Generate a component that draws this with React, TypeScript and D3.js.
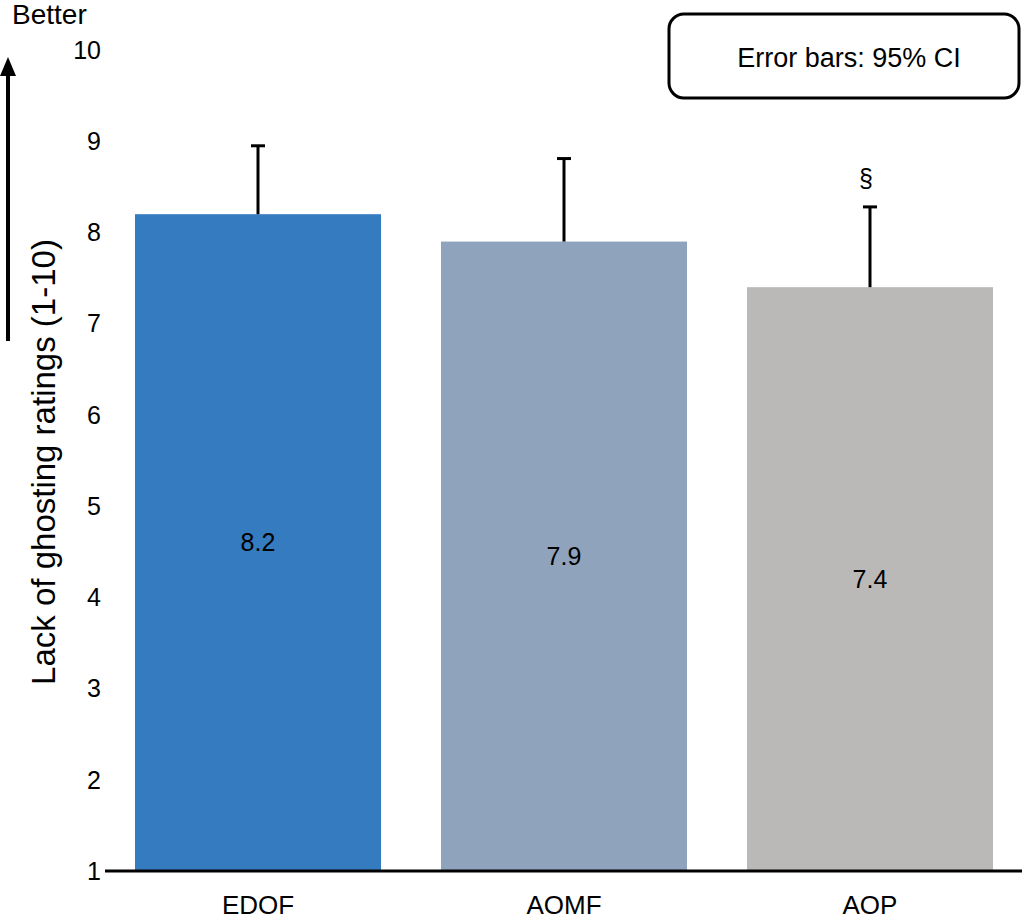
import React from "react";
import * as d3 from "d3";

const categories = ["EDOF", "AOMF", "AOP"];
const means = [8.2, 7.9, 7.4];
const upperCI = [8.95, 8.81, 8.28];
const colors = ["#347bc0", "#8fa3bd", "#bbb8b8"];
const markers = ["", "", "§"];
const yTicks = [1, 2, 3, 4, 5, 6, 7, 8, 9, 10];

const W = 1024;
const H = 921;
const FONT = "'Liberation Sans', Arial, Helvetica, sans-serif";

export default function App() {
  const x = d3.scaleBand<string>().domain(categories).range([105, 1023]).paddingInner(0.196).paddingOuter(0.098);
  const y = d3.scaleLinear().domain([1, 10]).range([871, 50]);
  const bw = x.bandwidth();
  return (
    <svg width={W} height={H} style={{ position: "absolute", left: 0, top: 0, background: "#fff" }} fontFamily={FONT}>
      <text x={12} y={24} fontSize={28} fill="#000">Better</text>
      <line x1={8} y1={341} x2={8} y2={72} stroke="#000" strokeWidth={4} />
      <path d="M0,76 L8,57 L16,76 Z" fill="#000" />
      <text transform={`translate(55,${462}) rotate(-90)`} textAnchor="middle" fontSize={33} fill="#000">Lack of ghosting ratings (1-10)</text>
      {yTicks.map((t) => (
        <text key={t} x={101} y={y(t)} dy="0.35em" textAnchor="end" fontSize={25} fill="#000">{t}</text>
      ))}
      {categories.map((c, i) => {
        const cx = (x(c) as number) + bw / 2;
        return (
          <g key={c}>
            <rect x={x(c)} y={y(means[i])} width={bw} height={y(1) - y(means[i])} fill={colors[i]} />
            <line x1={cx} x2={cx} y1={y(means[i])} y2={y(upperCI[i])} stroke="#000" strokeWidth={3} />
            <line x1={cx - 7} x2={cx + 7} y1={y(upperCI[i])} y2={y(upperCI[i])} stroke="#000" strokeWidth={3} />
            <text x={cx} y={(y(means[i]) + y(1)) / 2} dy="0.35em" textAnchor="middle" fontSize={25} fill="#000">{means[i].toFixed(1)}</text>
            <text x={cx} y={914} textAnchor="middle" fontSize={26} fill="#000">{c}</text>
            {markers[i] && (
              <text x={cx - 4} y={y(upperCI[i]) - 20} textAnchor="middle" fontSize={25} fill="#000">{markers[i]}</text>
            )}
          </g>
        );
      })}
      <line x1={105} x2={1022} y1={y(1)} y2={y(1)} stroke="#000" strokeWidth={3} />
      <rect x={669} y={14} width={350} height={84} rx={15} ry={15} fill="#fff" stroke="#000" strokeWidth={3} />
      <text x={849} y={67} textAnchor="middle" fontSize={27} fill="#000">Error bars: 95% CI</text>
    </svg>
  );
}
